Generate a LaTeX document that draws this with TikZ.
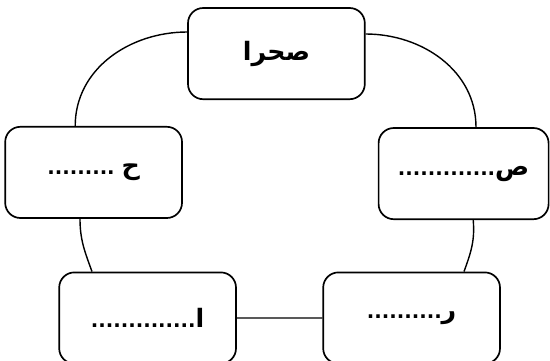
\documentclass[tikz,border=0pt]{standalone}
\usepackage{fontspec}
\usepackage{tikz}
\newfontfamily\arabicfont[Script=Arabic]{DejaVu Sans}
\TeXXeTstate=1
\newcommand{\artext}[1]{{\arabicfont\bfseries\beginR #1\endR}}
\newcommand{\arbig}[1]{{\fontsize{18}{20}\selectfont #1}}
\tikzset{
	cyclebox/.style={draw, line width=1.2pt, rounded corners=0.38cm,
		minimum width=4.42cm, minimum height=2.28cm,
		font=\fontsize{14}{16}\selectfont},
	cycleline/.style={line width=1pt}
}

\begin{document}
\begin{tikzpicture}
			\useasboundingbox (0, 0) rectangle (13.75, -9);
			% boxes
			\node[cyclebox] (top) at (6.91, -1.34) {\artext{\arbig{صحرا}}};
			\node[cyclebox] (left) at (2.34, -4.31) {\artext{\arbig{ح} .........}};
			\node[cyclebox, minimum width=4.25cm] (right) at (11.59, -4.34) {\artext{\arbig{ص}.............}};
			\node[cyclebox] (botleft) at (3.69, -7.95) {\artext{\arbig{ا}..............}};
			\node[cyclebox] (botright) at (10.29, -7.95) {\artext{\arbig{ر}..........}};
			% ring
			\draw[cycleline]
				([yshift=0.54cm]top.west) to[out=180, in=90] ([xshift=-0.46cm]left.north)
				([yshift=0.49cm]top.east) to[out=0, in=90] ([xshift=0.31cm]right.north)
				([xshift=-0.34cm]left.south) to[out=-90, in=110] ([xshift=-1.39cm]botleft.north)
				([xshift=0.24cm]right.south) to[out=-85, in=70] ([xshift=1.31cm]botright.north)
				(botleft.east) -- (botright.west);
		\end{tikzpicture}
\end{document}
